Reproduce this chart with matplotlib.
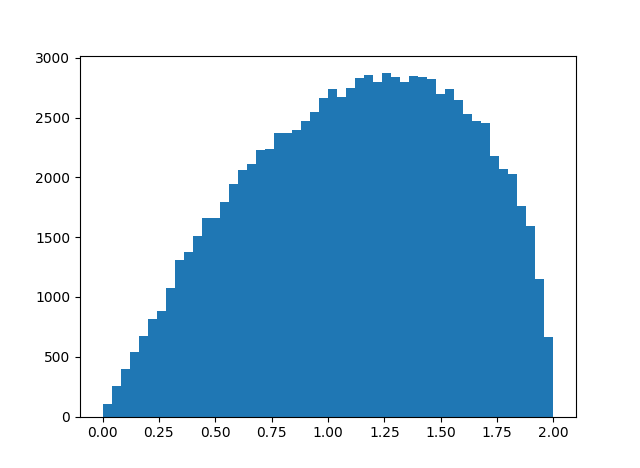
import numpy as np
import matplotlib

matplotlib.use("Agg")
import matplotlib.pyplot as plt

# Bin counts (50 bins on [0, 2])
counts = [
    106, 257, 399, 541, 675, 817, 884, 1077, 1311, 1378,
    1512, 1663, 1663, 1797, 1947, 2065, 2115, 2232, 2240, 2374,
    2374, 2399, 2475, 2550, 2667, 2742, 2676, 2751, 2835, 2858,
    2798, 2871, 2840, 2800, 2848, 2840, 2824, 2699, 2740, 2650,
    2531, 2473, 2456, 2180, 2071, 2029, 1762, 1595, 1151, 666,
]
x_min, x_max = 0.0, 2.0

edges = np.linspace(x_min, x_max, len(counts) + 1)
centers = (edges[:-1] + edges[1:]) / 2

fig, ax = plt.subplots(figsize=(6.4, 4.68), dpi=100)
ax.hist(centers, bins=edges, weights=counts)

plt.savefig("out.png", dpi=100)
